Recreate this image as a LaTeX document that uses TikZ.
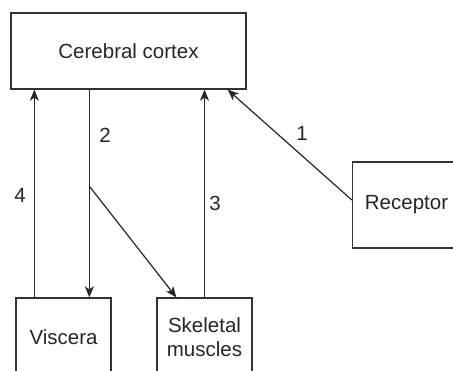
\documentclass[tikz,border=0pt]{standalone}
\usepackage{fontspec}
\setmainfont{Liberation Sans}
\usetikzlibrary{arrows.meta,calc}
\begin{document}
\begin{tikzpicture}[x=1pt,y=-1pt,
  box/.style={draw=black!80,line width=1.3pt,fill=white,inner sep=0pt,align=center,
    font=\fontsize{20.5}{23.5}\selectfont,text=black!85},
  arr/.style={draw=black!85,line width=1.2pt,-{Stealth[length=11pt,width=9pt,inset=3pt]}},
  lbl/.style={font=\fontsize{20.5}{23.5}\selectfont,text=black!85,inner sep=0pt}]
\useasboundingbox (0,0) rectangle (453,370);
\clip (0,0) rectangle (453,370);
\node[box,minimum width=235pt,minimum height=76pt] (cortex) at (128.5,51) {Cerebral cortex};
\node[box,minimum width=95pt,minimum height=78pt] (visc) at (63.5,337) {Viscera};
\node[box,minimum width=95pt,minimum height=78pt] (skel) at (204.5,337) {Skeletal\\muscles};
\node[box,minimum width=108pt,minimum height=86pt] (rec) at (406.5,205) {Receptor};
\coordinate (branch) at (90,187);
\draw[arr] ([xshift=19pt]visc.north west) -- ([xshift=19pt]visc.north west |- cortex.south);
\draw[arr] ([xshift=74pt]visc.north west |- cortex.south) -- ([xshift=74pt]visc.north west);
\draw[arr] (branch) -- ([xshift=20pt]skel.north west);
\draw[arr] (skel.north) -- (skel.north |- cortex.south);
\draw[arr] ([yshift=5pt]rec.west) -- ([xshift=-19pt]cortex.south east);
\node[lbl] (l1) at (302,133) {1};
\node[lbl] (l2) at (105,135) {2};
\node[lbl] (l3) at (215,203) {3};
\node[lbl] (l4) at (20,195) {4};
\end{tikzpicture}
\end{document}
